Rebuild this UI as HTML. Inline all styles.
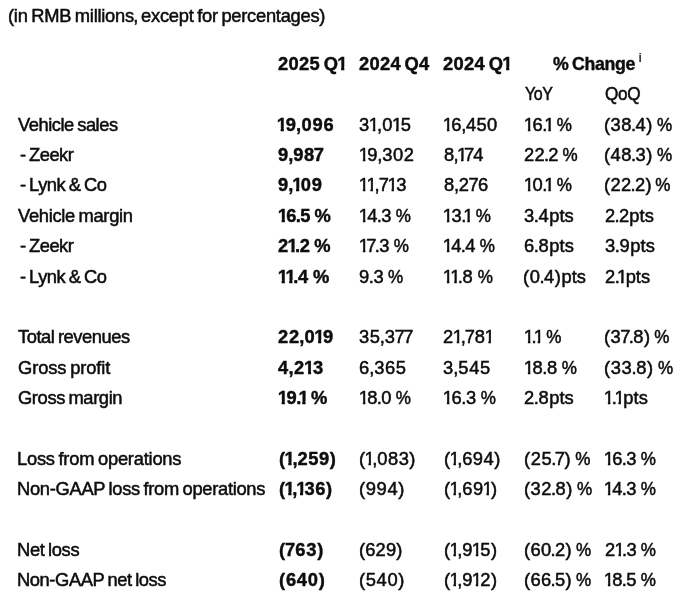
<!DOCTYPE html>
<html lang="en"><head><meta charset="utf-8"><title>Financial summary</title><style>
html,body{margin:0;padding:0;background:#fff}
body{width:700px;height:612px;position:relative;overflow:hidden;font-family:"Liberation Sans",sans-serif;color:#0d0d0d}
.t{position:absolute;white-space:nowrap;font-size:19px;line-height:24px;height:24px;-webkit-text-stroke:0.45px #111;transform:scaleX(0.965);transform-origin:0 0;text-shadow:0 0 1px rgba(0,0,0,.35)}
.b{font-weight:bold;-webkit-text-stroke-width:.35px}
sup{font-size:13.5px;font-weight:normal;letter-spacing:0;-webkit-text-stroke:0.2px #111;position:absolute;left:100%;margin-left:4px;top:-6.5px;line-height:24px}
i{font-style:normal}
.o{display:inline-block;margin:0 -2.3px 0 -1.2px;clip-path:polygon(0 0,100% 0,100% 16px,6.7px 16px,6.7px 100%,4.2px 100%,4.2px 16px,0 16px)}
.b .o{clip-path:polygon(0 0,100% 0,100% 15px,7.2px 15px,7.2px 100%,4px 100%,4px 15px,0 15px)}
.q{margin-left:-2.6px}
.u{letter-spacing:0}
.pc{display:inline-block;transform:scaleX(.93);transform-origin:0 50%;margin-right:-1.1px}
.k0{margin:0 -0.65px}
.k1{margin:0 -1.00px}
.k2{margin:0 -1.05px}
.n{word-spacing:-1.75px}.l{word-spacing:-1.2px}
</style></head><body>
<div class="l t" style="left:7.75px;top:4px;letter-spacing:-0.28px">(in RMB millions<i class="k0">,</i> except for percentages)</div>
<div class="n t b" style="left:278.49px;top:52px;letter-spacing:0.34px">2025 Q<i class="o">1</i></div>
<div class="n t b" style="left:359.49px;top:52px;letter-spacing:0.28px">2024 Q4</div>
<div class="n t b" style="left:443.49px;top:52px;letter-spacing:0.34px">2024 Q<i class="o">1</i></div>
<div class="l t b" style="left:553.28px;top:52px;letter-spacing:-0.35px;transform:scaleX(0.934)">% Change<sup>i</sup></div>
<div class="l t" style="left:524.60px;top:82px;letter-spacing:-0.60px;transform:scaleX(0.844)">YoY</div>
<div class="l t" style="left:605.32px;top:82px;letter-spacing:-0.40px;transform:scaleX(0.903)">QoQ</div>
<div class="l t" style="left:17.64px;top:113px;letter-spacing:-0.50px">Vehicle sales</div>
<div class="l t" style="left:20.32px;top:143px;letter-spacing:-0.53px">- Zeekr</div>
<div class="l t" style="left:20.32px;top:173px;letter-spacing:-0.49px">- Lynk &amp; Co</div>
<div class="l t" style="left:17.64px;top:204px;letter-spacing:-0.33px">Vehicle margin</div>
<div class="l t" style="left:20.32px;top:234px;letter-spacing:-0.53px">- Zeekr</div>
<div class="l t" style="left:20.32px;top:265px;letter-spacing:-0.49px">- Lynk &amp; Co</div>
<div class="l t" style="left:18.15px;top:325px;letter-spacing:-0.47px">Total revenues</div>
<div class="l t" style="left:17.58px;top:356px;letter-spacing:-0.12px">Gross profit</div>
<div class="l t" style="left:17.58px;top:386px;letter-spacing:-0.41px">Gross margin</div>
<div class="l t" style="left:17.45px;top:447px;letter-spacing:-0.24px">Loss from operations</div>
<div class="l t" style="left:17.45px;top:477px;letter-spacing:-0.32px">Non-GAAP loss from operations</div>
<div class="l t" style="left:17.45px;top:538px;letter-spacing:-0.37px">Net loss</div>
<div class="l t" style="left:17.45px;top:568px;letter-spacing:-0.44px">Non-GAAP net loss</div>
<div class="n t b" style="left:278.47px;top:113px;letter-spacing:0.88px"><i class="o">1</i>9<i class="k0">,</i>096</div>
<div class="n t b" style="left:277.98px;top:143px;letter-spacing:0.62px">9<i class="k0">,</i>98<i class="k2">7</i></div>
<div class="n t b" style="left:277.98px;top:173px;letter-spacing:0.68px">9<i class="k0">,</i><i class="o">1</i>09</div>
<div class="n t b" style="left:279.22px;top:204px;letter-spacing:0.37px"><i class="o">1</i>6<i class="k1">.</i>5 %</div>
<div class="n t b" style="left:278.24px;top:234px;letter-spacing:0.52px">2<i class="o">1</i><i class="k1">.</i>2 %</div>
<div class="n t b" style="left:279.22px;top:265px;letter-spacing:0.73px"><i class="o">1</i><i class="o">1</i><i class="k1">.</i>4 %</div>
<div class="n t b" style="left:278.24px;top:325px;letter-spacing:0.76px">22<i class="k0">,</i>0<i class="o">1</i>9</div>
<div class="n t b" style="left:278.09px;top:356px;letter-spacing:1.03px">4<i class="k0">,</i>2<i class="o">1</i>3</div>
<div class="n t b" style="left:279.22px;top:386px;letter-spacing:0.61px"><i class="o">1</i>9<i class="k1">.</i><i class="o q">1</i> %</div>
<div class="n t b" style="left:278.72px;top:447px;letter-spacing:0.58px">(<i class="o">1</i><i class="k0">,</i>259)</div>
<div class="n t b" style="left:278.72px;top:477px;letter-spacing:0.51px">(<i class="o">1</i><i class="k0">,</i><i class="o">1</i>36)</div>
<div class="n t b" style="left:278.72px;top:538px;letter-spacing:0.95px">(<i class="k2">7</i>63)</div>
<div class="n t b" style="left:278.72px;top:568px;letter-spacing:0.81px">(640)</div>
<div class="n t" style="left:359.44px;top:113px;letter-spacing:0.79px">3<i class="o">1</i><i class="k0">,</i>0<i class="o">1</i>5</div>
<div class="n t" style="left:360.35px;top:143px;letter-spacing:0.49px"><i class="o">1</i>9<i class="k0">,</i>302</div>
<div class="n t" style="left:360.35px;top:173px;letter-spacing:0.77px"><i class="o">1</i><i class="o">1</i><i class="k0">,</i><i class="k2">7</i><i class="o">1</i>3</div>
<div class="n t" style="left:360.35px;top:204px;letter-spacing:0.38px"><i class="o">1</i>4<i class="k1">.</i>3 <i class="pc">%</i></div>
<div class="n t" style="left:360.35px;top:234px;letter-spacing:0.38px"><i class="o">1</i><i class="k2">7</i><i class="k1">.</i>3 <i class="pc">%</i></div>
<div class="n t" style="left:359.38px;top:265px;letter-spacing:0.61px">9<i class="k1">.</i>3 <i class="pc">%</i></div>
<div class="n t" style="left:359.44px;top:325px;letter-spacing:0.52px">35<i class="k0">,</i>3<i class="k2">7</i><i class="k2">7</i></div>
<div class="n t" style="left:359.19px;top:356px;letter-spacing:0.61px">6<i class="k0">,</i>365</div>
<div class="n t" style="left:360.35px;top:386px;letter-spacing:0.38px"><i class="o">1</i>8<i class="k1">.</i>0 <i class="pc">%</i></div>
<div class="n t" style="left:359.00px;top:447px;letter-spacing:0.51px">(<i class="o">1</i><i class="k0">,</i>083)</div>
<div class="n t" style="left:359.00px;top:477px;letter-spacing:0.67px">(994)</div>
<div class="n t" style="left:359.00px;top:538px;letter-spacing:0.15px">(629)</div>
<div class="n t" style="left:359.00px;top:568px;letter-spacing:0.67px">(540)</div>
<div class="n t" style="left:444.35px;top:113px;letter-spacing:0.37px"><i class="o">1</i>6<i class="k0">,</i>450</div>
<div class="n t" style="left:443.84px;top:143px;letter-spacing:0.03px">8<i class="k0">,</i><i class="o">1</i><i class="k2">7</i>4</div>
<div class="n t" style="left:443.84px;top:173px;letter-spacing:0.39px">8<i class="k0">,</i>2<i class="k2">7</i>6</div>
<div class="n t" style="left:444.35px;top:204px;letter-spacing:0.56px"><i class="o">1</i>3<i class="k1">.</i><i class="o q">1</i> <i class="pc">%</i></div>
<div class="n t" style="left:444.35px;top:234px;letter-spacing:0.38px"><i class="o">1</i>4<i class="k1">.</i>4 <i class="pc">%</i></div>
<div class="n t" style="left:444.35px;top:265px;letter-spacing:0.59px"><i class="o">1</i><i class="o">1</i><i class="k1">.</i>8 <i class="pc">%</i></div>
<div class="n t" style="left:443.44px;top:325px;letter-spacing:0.67px">2<i class="o">1</i><i class="k0">,</i><i class="k2">7</i>8<i class="o">1</i></div>
<div class="n t" style="left:443.44px;top:356px;letter-spacing:0.66px">3<i class="k0">,</i>545</div>
<div class="n t" style="left:444.35px;top:386px;letter-spacing:0.59px"><i class="o">1</i>6<i class="k1">.</i>3 <i class="pc">%</i></div>
<div class="n t" style="left:443.50px;top:447px;letter-spacing:0.47px">(<i class="o">1</i><i class="k0">,</i>694)</div>
<div class="n t" style="left:443.50px;top:477px;letter-spacing:0.49px">(<i class="o">1</i><i class="k0">,</i>69<i class="o">1</i>)</div>
<div class="n t" style="left:443.50px;top:538px;letter-spacing:0.49px">(<i class="o">1</i><i class="k0">,</i>9<i class="o">1</i>5)</div>
<div class="n t" style="left:443.50px;top:568px;letter-spacing:0.49px">(<i class="o">1</i><i class="k0">,</i>9<i class="o">1</i>2)</div>
<div class="n t" style="left:524.85px;top:113px;letter-spacing:0.56px"><i class="o">1</i>6<i class="k1">.</i><i class="o q">1</i> <i class="pc">%</i></div>
<div class="n t" style="left:523.94px;top:143px;letter-spacing:0.27px">22<i class="k1">.</i>2 <i class="pc">%</i></div>
<div class="n t" style="left:524.85px;top:173px;letter-spacing:0.56px"><i class="o">1</i>0<i class="k1">.</i><i class="o q">1</i> <i class="pc">%</i></div>
<div class="n t" style="left:523.94px;top:204px;letter-spacing:0.56px">3<i class="k1">.</i>4<i class="u">pts</i></div>
<div class="n t" style="left:523.69px;top:234px;letter-spacing:0.61px">6<i class="k1">.</i>8<i class="u">pts</i></div>
<div class="n t" style="left:523.25px;top:265px;letter-spacing:0.55px">(0<i class="k1">.</i>4)<i class="u">pts</i></div>
<div class="n t" style="left:524.85px;top:325px;letter-spacing:0.61px"><i class="o">1</i><i class="k1">.</i><i class="o q">1</i> <i class="pc">%</i></div>
<div class="n t" style="left:524.85px;top:356px;letter-spacing:0.59px"><i class="o">1</i>8<i class="k1">.</i>8 <i class="pc">%</i></div>
<div class="n t" style="left:523.94px;top:386px;letter-spacing:0.56px">2<i class="k1">.</i>8<i class="u">pts</i></div>
<div class="n t" style="left:523.50px;top:447px;letter-spacing:0.57px">(25<i class="k1">.</i><i class="k2">7</i>) <i class="pc">%</i></div>
<div class="n t" style="left:523.50px;top:477px;letter-spacing:0.50px">(32<i class="k1">.</i>8) <i class="pc">%</i></div>
<div class="n t" style="left:523.50px;top:538px;letter-spacing:0.35px">(60<i class="k1">.</i>2) <i class="pc">%</i></div>
<div class="n t" style="left:523.50px;top:568px;letter-spacing:0.35px">(66<i class="k1">.</i>5) <i class="pc">%</i></div>
<div class="n t" style="left:604.00px;top:113px;letter-spacing:0.50px">(38<i class="k1">.</i>4) <i class="pc">%</i></div>
<div class="n t" style="left:604.00px;top:143px;letter-spacing:0.50px">(48<i class="k1">.</i>3) <i class="pc">%</i></div>
<div class="n t" style="left:604.00px;top:173px;letter-spacing:0.32px">(22<i class="k1">.</i>2) <i class="pc">%</i></div>
<div class="n t" style="left:604.94px;top:204px;letter-spacing:0.27px">2<i class="k1">.</i>2<i class="u">pts</i></div>
<div class="n t" style="left:604.94px;top:234px;letter-spacing:0.62px">3<i class="k1">.</i>9<i class="u">pts</i></div>
<div class="n t" style="left:604.94px;top:265px;letter-spacing:0.62px">2<i class="k1">.</i><i class="o q">1</i><i class="u">pts</i></div>
<div class="n t" style="left:604.00px;top:325px;letter-spacing:0.43px">(3<i class="k2">7</i><i class="k1">.</i>8) <i class="pc">%</i></div>
<div class="n t" style="left:604.00px;top:356px;letter-spacing:0.65px">(33<i class="k1">.</i>8) <i class="pc">%</i></div>
<div class="n t" style="left:605.35px;top:386px;letter-spacing:0.99px"><i class="o">1</i><i class="k1">.</i><i class="o q">1</i><i class="u">pts</i></div>
<div class="n t" style="left:605.35px;top:447px;letter-spacing:0.38px"><i class="o">1</i>6<i class="k1">.</i>3 <i class="pc">%</i></div>
<div class="n t" style="left:605.35px;top:477px;letter-spacing:0.38px"><i class="o">1</i>4<i class="k1">.</i>3 <i class="pc">%</i></div>
<div class="n t" style="left:604.94px;top:538px;letter-spacing:0.47px">2<i class="o">1</i><i class="k1">.</i>3 <i class="pc">%</i></div>
<div class="n t" style="left:605.35px;top:568px;letter-spacing:0.38px"><i class="o">1</i>8<i class="k1">.</i>5 <i class="pc">%</i></div>
</body></html>
